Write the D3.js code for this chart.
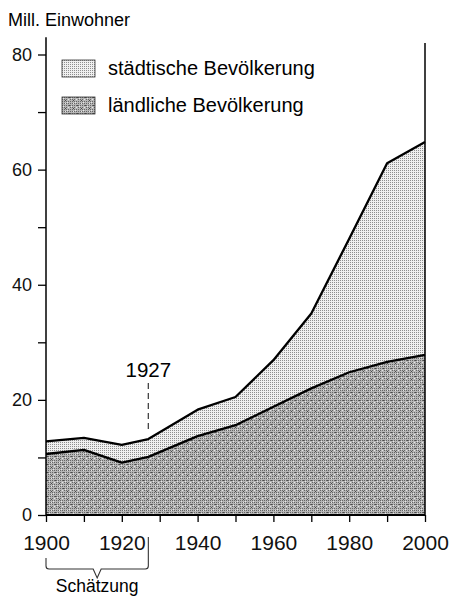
<!DOCTYPE html>
<html>
<head>
<meta charset="utf-8">
<script src="https://cdn.jsdelivr.net/npm/d3@7"></script>
<style>
  body { margin: 0; background: #fff; }
  svg { display: block; font-family: "Liberation Sans", Arial, sans-serif; }
  .axis path.domain { display: none; }
  .axis line { stroke: #000; stroke-width: 1.3; }
  .axis text { fill: #111; }
</style>
</head>
<body>
<div id="chart"></div>
<script>
// Population data (millions)
const years = [1900, 1910, 1920, 1927, 1940, 1950, 1960, 1970, 1980, 1990, 2000];
const rural = [10.6, 11.3, 9.1, 10.1, 13.7, 15.6, 18.8, 22.0, 24.8, 26.6, 27.8];
const total = [12.8, 13.4, 12.2, 13.2, 18.3, 20.5, 26.9, 35.0, 48.0, 61.1, 64.8];
const yLabelTicks = [0, 20, 40, 60, 80];
const xLabelTicks = [1900, 1920, 1940, 1960, 1980, 2000];
const legendLabels = ['städtische Bevölkerung', 'ländliche Bevölkerung'];
const yTitle = 'Mill. Einwohner';
const markYear = 1927;
const estimateLabel = 'Schätzung';

const WIDTH = 449, HEIGHT = 601;

const data = years.map((yr, i) => ({ year: yr, rural: rural[i], total: total[i] }));

const svg = d3.select('#chart').append('svg')
    .attr('width', WIDTH)
    .attr('height', HEIGHT);

// Texture patterns
const defs = svg.append('defs');

const pUrban = defs.append('pattern')
    .attr('id', 'urban')
    .attr('patternUnits', 'userSpaceOnUse')
    .attr('width', 4).attr('height', 4);
pUrban.append('rect').attr('width', 4).attr('height', 4).attr('fill', '#f0f0f0');
[[0, 0], [2, 0], [0, 2], [2, 2]].forEach(([px, py]) => {
    pUrban.append('rect').attr('x', px).attr('y', py).attr('width', 1).attr('height', 1).attr('fill', '#8e8e8e');
});

const pRural = defs.append('pattern')
    .attr('id', 'rural')
    .attr('patternUnits', 'userSpaceOnUse')
    .attr('width', 8).attr('height', 8);
pRural.append('rect').attr('width', 8).attr('height', 8).attr('fill', '#b6b6b6');
for (let i = 0; i < 8; i += 2) {
    for (let j = 0; j < 8; j += 2) {
        pRural.append('rect').attr('x', i).attr('y', j).attr('width', 1).attr('height', 1).attr('fill', '#666');
    }
}
[[1, 1], [5, 5], [3, 6], [6, 2]].forEach(([px, py]) => {
    pRural.append('rect').attr('x', px).attr('y', py).attr('width', 1).attr('height', 1).attr('fill', '#e6e6e6');
});
[[3, 3], [7, 0]].forEach(([px, py]) => {
    pRural.append('rect').attr('x', px).attr('y', py).attr('width', 1).attr('height', 1).attr('fill', '#4a4a4a');
});

// Scales
const x = d3.scaleLinear().domain([1900, 2000]).range([46, 425]);
const y = d3.scaleLinear().domain([0, 80]).range([515, 54.5]);

// Areas
const urbanArea = d3.area()
    .x(d => x(d.year))
    .y0(d => y(d.rural))
    .y1(d => y(d.total));

const ruralArea = d3.area()
    .x(d => x(d.year))
    .y0(y(0))
    .y1(d => y(d.rural));

svg.append('path').datum(data).attr('d', urbanArea).attr('fill', 'url(#urban)');
svg.append('path').datum(data).attr('d', ruralArea).attr('fill', 'url(#rural)');

// Lines
const line = key => d3.line().x(d => x(d.year)).y(d => y(d[key]));
['total', 'rural'].forEach(k => {
    svg.append('path').datum(data)
        .attr('d', line(k))
        .attr('fill', 'none')
        .attr('stroke', '#000')
        .attr('stroke-width', 2.3)
        .attr('stroke-linejoin', 'round');
});

// Y axis
svg.append('g')
    .attr('class', 'axis')
    .attr('transform', `translate(${x(1900)},0)`)
    .call(d3.axisLeft(y)
        .tickValues(d3.range(0, 81, 10))
        .tickSize(8)
        .tickPadding(6)
        .tickFormat(d => yLabelTicks.includes(d) ? d : ''))
    .selectAll('text')
    .style('font-size', '18px');

// X axis
svg.append('g')
    .attr('class', 'axis')
    .attr('transform', `translate(0,${y(0)})`)
    .call(d3.axisBottom(x)
        .tickValues(d3.range(1900, 2001, 10))
        .tickSize(7)
        .tickPadding(13)
        .tickFormat(d => xLabelTicks.includes(d) ? d : ''))
    .selectAll('text')
    .style('font-size', '21px');

// Frame lines: left axis, right edge, baseline
svg.append('line')
    .attr('x1', x(1900)).attr('x2', x(1900))
    .attr('y1', y(0)).attr('y2', y(83))
    .attr('stroke', '#000').attr('stroke-width', 1.5);
svg.append('line')
    .attr('x1', x(2000)).attr('x2', x(2000))
    .attr('y1', y(0)).attr('y2', y(82))
    .attr('stroke', '#000').attr('stroke-width', 1.5);
svg.append('line')
    .attr('x1', x(1900)).attr('x2', x(2000))
    .attr('y1', y(0)).attr('y2', y(0))
    .attr('stroke', '#000').attr('stroke-width', 1.8);

// Y title
svg.append('text')
    .attr('x', 8)
    .attr('y', 26)
    .style('font-size', '18px')
    .text(yTitle);

// Legend
const legend = svg.append('g').attr('transform', 'translate(62,60)');
['url(#urban)', 'url(#rural)'].forEach((fill, i) => {
    const row = legend.append('g').attr('transform', `translate(0,${i * 37})`);
    row.append('rect')
        .attr('width', 33)
        .attr('height', 17)
        .attr('fill', fill)
        .attr('stroke', '#333')
        .attr('stroke-width', 0.8);
    row.append('text')
        .attr('x', 46)
        .attr('y', 15)
        .style('font-size', '20px')
        .text(legendLabels[i]);
});

// 1927 marker
const markIdx = years.indexOf(markYear);
svg.append('line')
    .attr('x1', x(markYear)).attr('x2', x(markYear))
    .attr('y1', 383).attr('y2', y(total[markIdx]) - 6)
    .attr('stroke', '#444')
    .attr('stroke-width', 1.3)
    .attr('stroke-dasharray', '6,4');
svg.append('text')
    .attr('x', x(markYear))
    .attr('y', 377)
    .attr('text-anchor', 'middle')
    .style('font-size', '20.5px')
    .text(markYear);

// Estimate brace under 1900-1927
const bx0 = x(1900), bx1 = x(markYear), bm = (bx0 + bx1) / 2, by = 569;
svg.append('path')
    .attr('d', `M${bx0},558 L${bx0},${by - 3} Q${bx0},${by} ${bx0 + 3},${by} L${bm - 4},${by} L${bm},${by + 9} L${bm + 4},${by} L${bx1 - 3},${by} Q${bx1},${by} ${bx1},${by - 3} L${bx1},537`)
    .attr('fill', 'none')
    .attr('stroke', '#333')
    .attr('stroke-width', 1.1);
svg.append('text')
    .attr('x', bm)
    .attr('y', 592)
    .attr('text-anchor', 'middle')
    .style('font-size', '17.5px')
    .text(estimateLabel);
</script>
</body>
</html>
